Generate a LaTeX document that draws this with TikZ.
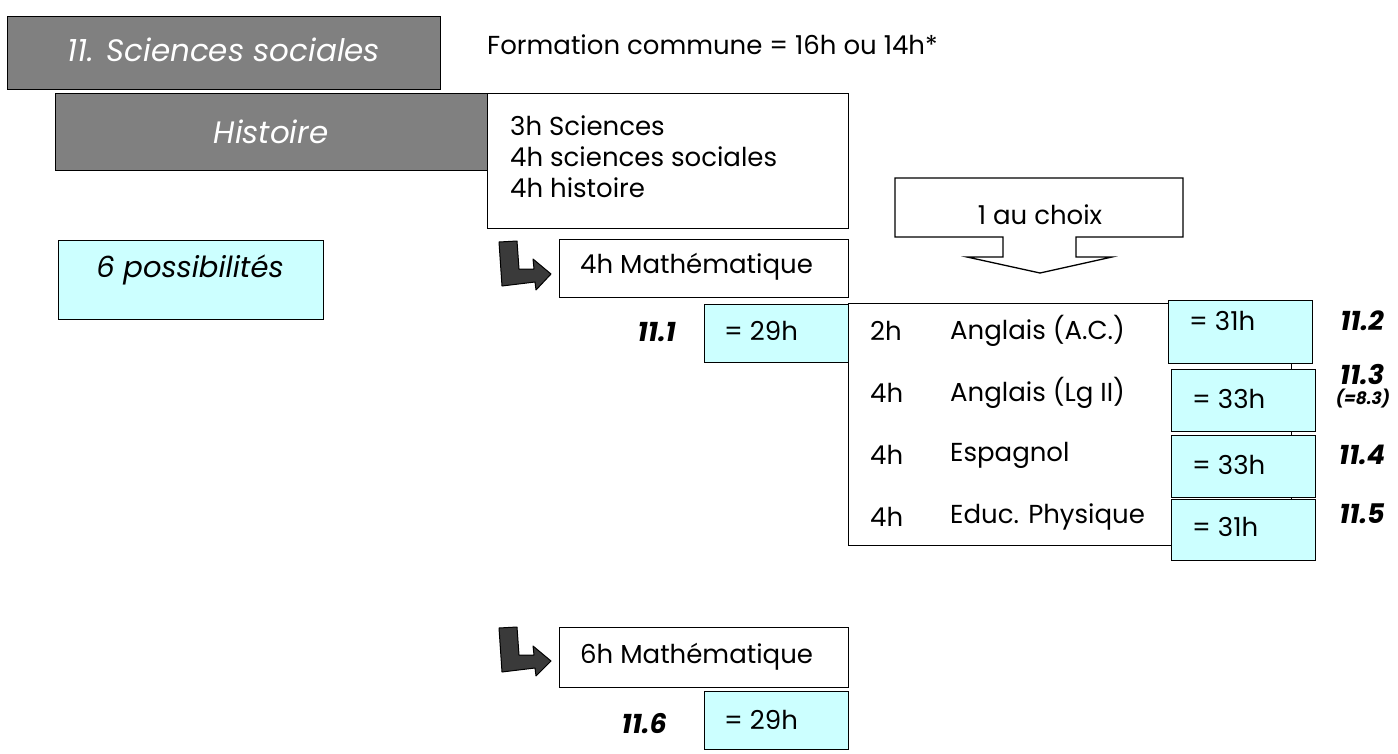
\documentclass[tikz,border=0pt]{standalone}
\usepackage{fontspec}
\setmainfont{Poppins}
\definecolor{boxgray}{HTML}{808080}
\definecolor{lightcyan}{HTML}{CCFFFF}
\definecolor{arrowgray}{HTML}{3A3A3A}
\begin{document}
\begin{tikzpicture}[x=1pt,y=-1pt,
  frame/.style={draw=black, line width=1.3pt, inner sep=0pt, anchor=north west},
  graybox/.style={frame, fill=boxgray},
  whitebox/.style={frame, fill=white},
  cyanbox/.style={frame, fill=lightcyan},
  gtxt/.style={anchor=center, inner sep=0pt, text=white, font=\fontsize{31}{36}\selectfont\itshape},
  txt/.style={anchor=west, inner sep=0pt, font=\fontsize{26}{30}\selectfont},
  lbl/.style={anchor=center, inner sep=0pt, font=\fontsize{27}{30}\selectfont\bfseries\itshape},
  sublbl/.style={anchor=center, inner sep=0pt, font=\fontsize{17}{20}\selectfont\bfseries\itshape},
  larrow/.style={draw=black, line width=1pt, fill=arrowgray, line join=round},
  callout/.style={draw=black, line width=1.3pt, fill=white}
]
\useasboundingbox (0,0) rectangle (1398,753);

% title boxes
\node[graybox, minimum width=433pt, minimum height=73pt] (title) at (7,16) {};
\node[gtxt] (titlet) at (224,50) {11. Sciences sociales};
\node[txt] (formation) at (487,45) {Formation commune = 16h ou 14h*};
\node[graybox, minimum width=432pt, minimum height=77pt] (histoire) at (55,93) {};
\node[gtxt] (histoiret) at (271,132) {Histoire};
\node[whitebox, minimum width=361pt, minimum height=135pt] (common) at (487,93) {};
\node[txt] (l1) at (510,126) {3h Sciences};
\node[txt] (l2) at (510,157) {4h sciences sociales};
\node[txt] (l3) at (510,188) {4h histoire};

\node[cyanbox, minimum width=265pt, minimum height=79pt] (poss) at (58,240) {};
\node[anchor=center, inner sep=0pt, font=\fontsize{29}{34}\selectfont\itshape] (posst) at (190,270) {6 possibilités};

% callout "1 au choix"
\draw[callout] (895,178) coordinate (cA) -- (1183,178) -- (1183,237) -- (1076,237) -- (1076,257)
  -- (1112,257) -- (1040,273) coordinate (cTip) -- (967,257) -- (1003,257) -- (1003,237)
  -- (895,237) -- cycle;
\node[txt, anchor=center] (choix) at (1040,215) {1 au choix};

% first branch: 4h math
\draw[larrow] (499,242) -- (517,241) -- (519,269) -- (534,269) -- (533,259) -- (551,274)
  -- (536,290) -- (535,282) -- (502,286) -- cycle;
\node[whitebox, minimum width=289pt, minimum height=58pt] (math4) at (559,239) {};
\node[txt] (math4t) at (580,267) {4h Mathématique};

\node[cyanbox, minimum width=144pt, minimum height=58pt] (h29a) at (704,304) {};
\node[txt] (h29at) at (724,331) {= 29h};
\node[lbl, anchor=east] (n111) at (676,332) {11.1};

% options
\node[whitebox, minimum width=443pt, minimum height=242pt] (opts) at (848,303) {};
\node[txt] (r1a) at (870,331) {2h};
\node[txt] (r1b) at (950,331) {Anglais (A.C.)};
\node[txt] (r2a) at (870,393) {4h};
\node[txt] (r2b) at (950,393) {Anglais (Lg II)};
\node[txt] (r3a) at (870,455) {4h};
\node[txt] (r3b) at (950,455) {Espagnol};
\node[txt] (r4a) at (870,517) {4h};
\node[txt] (r4b) at (950,517) {Educ. Physique};

\node[cyanbox, minimum width=144pt, minimum height=63pt] (h31a) at (1168,300) {};
\node[txt] (h31at) at (1189,321) {= 31h};
\node[cyanbox, minimum width=144pt, minimum height=62pt] (h33a) at (1171,369) {};
\node[txt] (h33at) at (1192,399) {= 33h};
\node[cyanbox, minimum width=144pt, minimum height=62pt] (h33b) at (1171,435) {};
\node[txt] (h33bt) at (1192,465) {= 33h};
\node[cyanbox, minimum width=144pt, minimum height=61pt] (h31b) at (1171,499) {};
\node[txt] (h31bt) at (1192,527) {= 31h};

\node[lbl] (n112) at (1362,321) {11.2};
\node[lbl] (n113) at (1362,375) {11.3};
\node[sublbl] (n113b) at (1363,399) {(=8.3)};
\node[lbl] (n114) at (1362,455) {11.4};
\node[lbl] (n115) at (1362,514) {11.5};

% second branch: 6h math
\draw[larrow] (499,628) -- (517,627) -- (519,655) -- (534,655) -- (533,646) -- (551,661)
  -- (536,676) -- (535,668) -- (502,672) -- cycle;
\node[whitebox, minimum width=289pt, minimum height=60pt] (math6) at (559,627) {};
\node[txt] (math6t) at (580,657) {6h Mathématique};
\node[cyanbox, minimum width=144pt, minimum height=58pt] (h29b) at (704,691) {};
\node[txt] (h29bt) at (724,720) {= 29h};
\node[lbl, anchor=east] (n116) at (667,724) {11.6};
\end{tikzpicture}
\end{document}
